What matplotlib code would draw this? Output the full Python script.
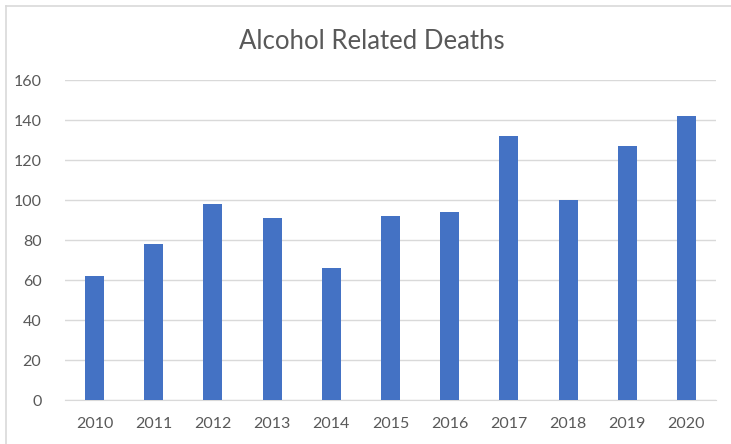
import numpy as np
from matplotlib import pyplot as plt
from matplotlib.lines import Line2D

plt.rcParams['font.family'] = ['Lato', 'DejaVu Sans']

# data
years = ['2010', '2011', '2012', '2013', '2014', '2015', '2016', '2017', '2018', '2019', '2020']
deaths = [62, 78, 98, 91, 66, 92, 94, 132, 100, 127, 142]
y_ticks = [0, 20, 40, 60, 80, 100, 120, 140, 160]

fig = plt.figure(figsize=(7.31, 4.44), dpi=100)
ax = fig.add_axes([65 / 731, 1 - 400 / 444, 651 / 731, 320 / 444])

x = np.arange(len(years))
ax.bar(x, deaths, width=0.32, color='#4472c4', zorder=3)

ax.set_xlim(-0.5, len(years) - 0.5)
ax.set_ylim(0, 160)
ax.set_yticks(y_ticks)
ax.set_xticks(x)
ax.set_xticklabels(years)
ax.tick_params(axis='both', length=0, labelsize=11.5, labelcolor='#595959')
ax.tick_params(axis='y', pad=17)
ax.tick_params(axis='x', pad=12)

ax.grid(axis='y', color='#d9d9d9', linewidth=1, zorder=0)
for s in ['top', 'right', 'left']:
    ax.spines[s].set_visible(False)
ax.spines['bottom'].set_color('#d9d9d9')

fig.text(372 / 731, 1 - 41 / 444, 'Alcohol Related Deaths', ha='center', va='center',
         fontsize=18.5, color='#595959')

# chart frame
fig.add_artist(Line2D([6 / 731, 6 / 731], [0, 1 - 6 / 444], color='#d9d9d9', linewidth=1.2))
fig.add_artist(Line2D([6 / 731, 1], [1 - 6 / 444, 1 - 6 / 444], color='#d9d9d9', linewidth=1.2))

plt.savefig('out.png', dpi=100)
